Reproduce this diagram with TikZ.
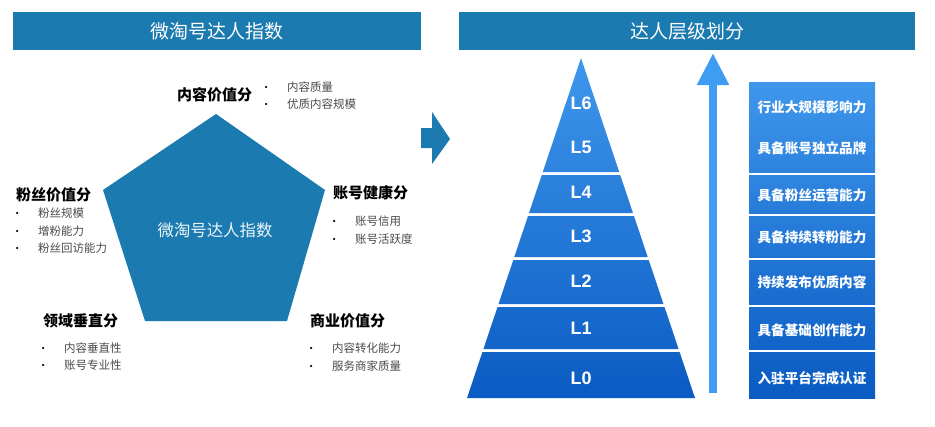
\documentclass[tikz,border=0pt]{standalone}
\usepackage{fontspec}
\setmainfont{Noto Sans CJK SC}
\newfontfamily\levelfont{Liberation Sans}
\usepackage{tikz}
\usetikzlibrary{arrows.meta,positioning,calc}
\definecolor{ocean}{HTML}{1B7BB0}
\definecolor{pyrtop}{HTML}{3F97EC}
\definecolor{pyrbot}{HTML}{0A5BC2}
\definecolor{riseblue}{HTML}{3E9CF2}
\definecolor{itemgray}{HTML}{4A4A4A}

\begin{document}
\begin{tikzpicture}[x=1pt,y=-1pt,
    titlebar/.style={fill=ocean,inner sep=0pt,minimum height=38pt,text=white,font=\fontsize{19}{22}\selectfont},
    head/.style={font=\bfseries\fontsize{15}{18}\selectfont,inner sep=0pt,anchor=west},
    bullet/.style={circle,fill=black,inner sep=0pt,minimum size=2.4pt},
    item/.style={font=\fontsize{11.5}{14}\selectfont,text=itemgray,inner sep=0pt,anchor=west,
      label={[bullet,label distance=19.5pt]left:{}}},
    lvbox/.style={inner sep=0pt,minimum width=126pt},
    lvtext/.style={text=white,font=\bfseries\fontsize{13.6}{16}\selectfont,inner sep=0pt},
    lvname/.style={text=white,font=\levelfont\bfseries\fontsize{18}{20}\selectfont,inner sep=0pt}]
  \useasboundingbox (0,0) rectangle (935,426);
  % title bars
  \node[titlebar,minimum width=408pt] (lefttitle) at (217,31) {微淘号达人指数};
  \node[titlebar,minimum width=456pt] (righttitle) at (687,31) {达人层级划分};
  % pentagon with the five scores
  \fill[ocean] (216,114) -- (325,190) -- (287,321) -- (145,321) -- (103,190) -- cycle;
  \node[text=white!92!ocean,font=\fontsize{16.4}{19}\selectfont] (penttext) at (215,230) {微淘号达人指数};
  \node[head] (content) at (177,95) {内容价值分};
  \node[item] (content1) at (287,87) {内容质量};
  \node[item] (content2) at (287,104) {优质内容规模};
  \node[head] (fans) at (16,195) {粉丝价值分};
  \node[item] (fans1) at (38,213) {粉丝规模};
  \node[item] (fans2) at (38,231) {增粉能力};
  \node[item] (fans3) at (38,248) {粉丝回访能力};
  \node[head] (health) at (333,193) {账号健康分};
  \node[item] (health1) at (355,221) {账号信用};
  \node[item] (health2) at (355,239) {账号活跃度};
  \node[head] (vertical) at (43,321) {领域垂直分};
  \node[item] (vertical1) at (64,348) {内容垂直性};
  \node[item] (vertical2) at (64,365) {账号专业性};
  \node[head] (business) at (310,321) {商业价值分};
  \node[item] (business1) at (332,348) {内容转化能力};
  \node[item] (business2) at (332,366) {服务商家质量};
  % block arrow between the panels
  \fill[ocean] (421,128) -- (432,128) -- (432,112) -- (450,139) -- (432,164) -- (432,148) -- (421,148) -- cycle;
  % pyramid bands and level boxes: top/bottom/box top/name
  \foreach \t/\b/\bt/\n in {58/172/82/top,175/213/175/four,216/257/216/three,260/304/260/two,307/349/307/one,352/398/352/zero}{
    \pgfmathsetmacro\wt{(\t-58)*0.3353}
    \pgfmathsetmacro\wb{(\b-58)*0.3353}
    \pgfmathsetmacro\ptop{(398-\t)/340*100}
    \pgfmathsetmacro\pbtop{(398-\bt)/316*100}
    \pgfmathsetmacro\pbot{(398-\b)/340*100}
    \shade[top color=pyrtop!\ptop!pyrbot,bottom color=pyrtop!\pbot!pyrbot]
      ({581-\wt},\t) -- ({581+\wt},\t) -- ({581+\wb},\b) -- ({581-\wb},\b) -- cycle;
    \node[lvbox,minimum height={\b-\bt},top color=pyrtop!\pbtop!pyrbot,bottom color=pyrtop!\pbot!pyrbot]
      (box\n) at (812,{(\bt+\b)/2}) {};
  }
  % level names and descriptions
  \foreach \ly/\ty/\lv/\txt in {103/107/6/行业大规模影响力,147/148/5/具备账号独立品牌,192/195/4/具备粉丝运营能力,
      236/237/3/具备持续转粉能力,281/282/2/持续发布优质内容,328/330/1/具备基础创作能力,378/378/0/入驻平台完成认证}{
    \node[lvname] (lv\lv) at (581,\ly) {L\lv};
    \node[lvtext] (desc\lv) at (812,\ty) {\txt};
  }
  % rising arrow
  \coordinate (risebot) at (713,393);
  \coordinate (risetop) at (713,53);
  \draw[riseblue,line width=8pt,-{Triangle[length=32pt,width=30pt]}] (risebot) -- (risetop);
\end{tikzpicture}
\end{document}
